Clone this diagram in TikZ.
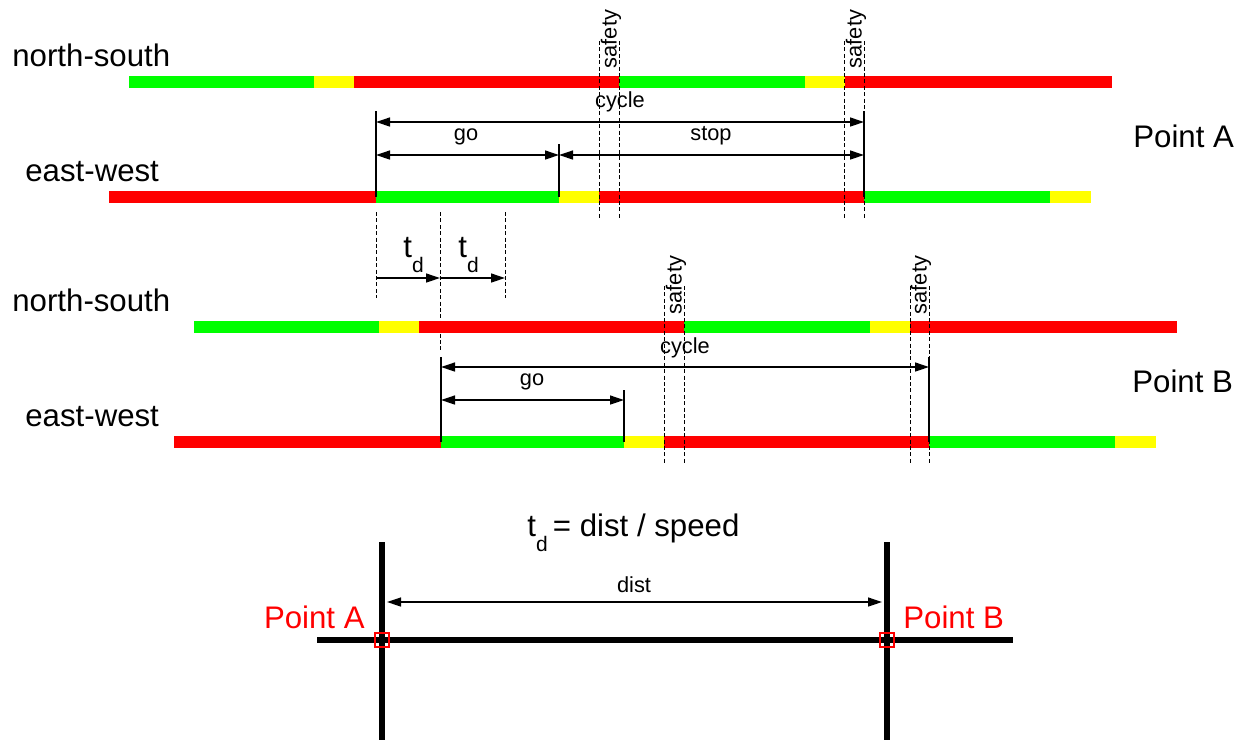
\documentclass[tikz,border=0pt]{standalone}
\usepackage{fontspec}
\setmainfont{Liberation Sans}
\usepackage{xcolor}
\definecolor{sigred}{HTML}{FF0000}
\definecolor{siggreen}{HTML}{00FF00}
\definecolor{sigyellow}{HTML}{FFFF00}
\usepackage{tikz}
\usetikzlibrary{arrows.meta,positioning}

\begin{document}
\begin{tikzpicture}[x=0.5pt,y=-0.5pt,
  big/.style={font=\fontsize{15.6pt}{18pt}\selectfont, inner sep=0pt},
  small/.style={font=\fontsize{10.9pt}{12pt}\selectfont, inner sep=0pt},
  guide/.style={draw=black, line width=0.5pt, dash pattern=on 2pt off 1.2pt},
  tick/.style={draw=black, line width=0.65pt},
  dim/.style={draw=black, line width=0.65pt,
              {Triangle[length=7pt,width=4.5pt]}-{Triangle[length=7pt,width=4.5pt]}},
  span/.style={draw=black, line width=0.65pt, -{Triangle[length=7pt,width=4.5pt]}},
  road/.style={draw=black, line width=3pt},
  safe/.style={small, rotate=90},
  crossing/.style={draw=sigred, line width=1pt, minimum size=7pt, inner sep=0pt}
]
  \useasboundingbox (0,0) rectangle (1242,740);

  % ---- Point A ----
  \node[big,anchor=base west] (nsA) at (12,66) {north-south};
  \node[big,anchor=base west] (ewA) at (25,181) {east-west};
  \node[big,anchor=base west] (ptA) at (1133,147) {Point A};

  \fill[siggreen]  (129,76) rectangle (314,88);
  \fill[sigyellow] (314,76) rectangle (354,88);
  \fill[sigred]    (354,76) rectangle (619,88);
  \fill[siggreen]  (619,76) rectangle (805,88);
  \fill[sigyellow] (805,76) rectangle (845,88);
  \fill[sigred]    (845,76) rectangle (1112,88);

  \fill[sigred]    (109,191) rectangle (376,203);
  \fill[siggreen]  (376,191) rectangle (559,203);
  \fill[sigyellow] (559,191) rectangle (599,203);
  \fill[sigred]    (599,191) rectangle (864,203);
  \fill[siggreen]  (864,191) rectangle (1050,203);
  \fill[sigyellow] (1050,191) rectangle (1091,203);

  \coordinate (sA1t) at (599,41);  \coordinate (sA1b) at (599,220);
  \coordinate (sA2t) at (619,41);  \coordinate (sA2b) at (619,220);
  \coordinate (sA3t) at (844,41);  \coordinate (sA3b) at (844,220);
  \coordinate (sA4t) at (864,41);  \coordinate (sA4b) at (864,220);
  \draw[guide] (sA1t) -- (sA1b);
  \draw[guide] (sA2t) -- (sA2b);
  \draw[guide] (sA3t) -- (sA3b);
  \draw[guide] (sA4t) -- (sA4b);
  \node[safe] (safeA1) at (611,39) {safety};
  \node[safe] (safeA2) at (856,39) {safety};

  \coordinate (goA0) at (376,197); \coordinate (goA1) at (559,197);
  \coordinate (cyA1) at (864,197);
  \coordinate (cyAl) at (376,111); \coordinate (cyAr) at (864,111);
  \coordinate (goAt) at (559,144);
  \draw[tick] (cyAl) -- (goA0);
  \draw[tick] (goAt) -- (goA1);
  \draw[tick] (cyAr) -- (cyA1);

  \coordinate (c1) at (376,122); \coordinate (c2) at (864,122);
  \coordinate (g1) at (376,155); \coordinate (g2) at (559,155);
  \coordinate (g3) at (864,155);
  \draw[dim] (c1) -- (c2);
  \draw[dim] (g1) -- (g2);
  \draw[dim] (g2) -- (g3);
  \node[small,anchor=base] (cycA) at (620,107) {cycle};
  \node[small,anchor=base] (goA)  at (466,140) {go};
  \node[small,anchor=base] (stA)  at (711,140) {stop};

  % ---- delay ----
  \coordinate (d0t) at (376,212); \coordinate (d0b) at (376,298);
  \coordinate (d1t) at (440,212); \coordinate (d1b) at (440,350);
  \coordinate (d2t) at (505,212); \coordinate (d2b) at (505,298);
  \draw[guide] (d0t) -- (d0b);
  \draw[guide] (d1t) -- (d1b);
  \draw[guide] (d2t) -- (d2b);
  \coordinate (e0) at (376,278); \coordinate (e1) at (440,278);
  \coordinate (e2) at (505,278);
  \draw[span] (e0) -- (e1);
  \draw[span] (e1) -- (e2);
  \node[big,anchor=base west] (tdA) at (403,257)
    {t\raisebox{-0.95ex}{\fontsize{10.5pt}{12pt}\selectfont d}};
  \node[big,anchor=base west] (tdB) at (458,257)
    {t\raisebox{-0.95ex}{\fontsize{10.5pt}{12pt}\selectfont d}};

  % ---- Point B ----
  \node[big,anchor=base west] (nsB) at (12,311) {north-south};
  \node[big,anchor=base west] (ewB) at (25,426) {east-west};
  \node[big,anchor=base west] (ptB) at (1132,392) {Point B};

  \fill[siggreen]  (194,321) rectangle (379,333);
  \fill[sigyellow] (379,321) rectangle (419,333);
  \fill[sigred]    (419,321) rectangle (684,333);
  \fill[siggreen]  (684,321) rectangle (870,333);
  \fill[sigyellow] (870,321) rectangle (910,333);
  \fill[sigred]    (910,321) rectangle (1177,333);

  \fill[sigred]    (174,436) rectangle (441,448);
  \fill[siggreen]  (441,436) rectangle (624,448);
  \fill[sigyellow] (624,436) rectangle (664,448);
  \fill[sigred]    (664,436) rectangle (929,448);
  \fill[siggreen]  (929,436) rectangle (1115,448);
  \fill[sigyellow] (1115,436) rectangle (1156,448);

  \coordinate (sB1t) at (664,286); \coordinate (sB1b) at (664,465);
  \coordinate (sB2t) at (684,286); \coordinate (sB2b) at (684,465);
  \coordinate (sB3t) at (910,286); \coordinate (sB3b) at (910,465);
  \coordinate (sB4t) at (929,286); \coordinate (sB4b) at (929,465);
  \draw[guide] (sB1t) -- (sB1b);
  \draw[guide] (sB2t) -- (sB2b);
  \draw[guide] (sB3t) -- (sB3b);
  \draw[guide] (sB4t) -- (sB4b);
  \node[safe] (safeB1) at (676,285) {safety};
  \node[safe] (safeB2) at (921,285) {safety};

  \coordinate (goB0) at (441,442); \coordinate (goB1) at (624,442);
  \coordinate (cyB1) at (929,442);
  \coordinate (cyBl) at (441,357); \coordinate (cyBr) at (929,357);
  \coordinate (goBt) at (624,390);
  \draw[tick] (cyBl) -- (goB0);
  \draw[tick] (goBt) -- (goB1);
  \draw[tick] (cyBr) -- (cyB1);

  \coordinate (c3) at (441,367); \coordinate (c4) at (929,367);
  \coordinate (g4) at (441,400); \coordinate (g5) at (624,400);
  \draw[dim] (c3) -- (c4);
  \draw[dim] (g4) -- (g5);
  \node[small,anchor=base] (cycB) at (685,353) {cycle};
  \node[small,anchor=base] (goB)  at (532,385) {go};

  % ---- roads ----
  \node[big,anchor=base west] (formula) at (527,536)
    {t\raisebox{-0.95ex}{\fontsize{10.5pt}{12pt}\selectfont d}\,= dist / speed};

  \coordinate (rAt) at (382,542); \coordinate (rAb) at (382,740);
  \coordinate (rBt) at (887,542); \coordinate (rBb) at (887,740);
  \coordinate (rL)  at (317,640); \coordinate (rR)  at (1013,640);
  \draw[road] (rAt) -- (rAb);
  \draw[road] (rBt) -- (rBb);
  \draw[road] (rL) -- (rR);
  \node[crossing] (xA) at (382,640) {};
  \node[crossing] (xB) at (887,640) {};

  \coordinate (dl) at (387,602); \coordinate (dr) at (882,602);
  \draw[dim] (dl) -- (dr);
  \node[small,anchor=base] (dist) at (634,592) {dist};

  \node[big,anchor=base east,text=sigred] (redA) at (365,628) {Point A};
  \node[big,anchor=base west,text=sigred] (redB) at (903,628) {Point B};

\end{tikzpicture}
\end{document}
